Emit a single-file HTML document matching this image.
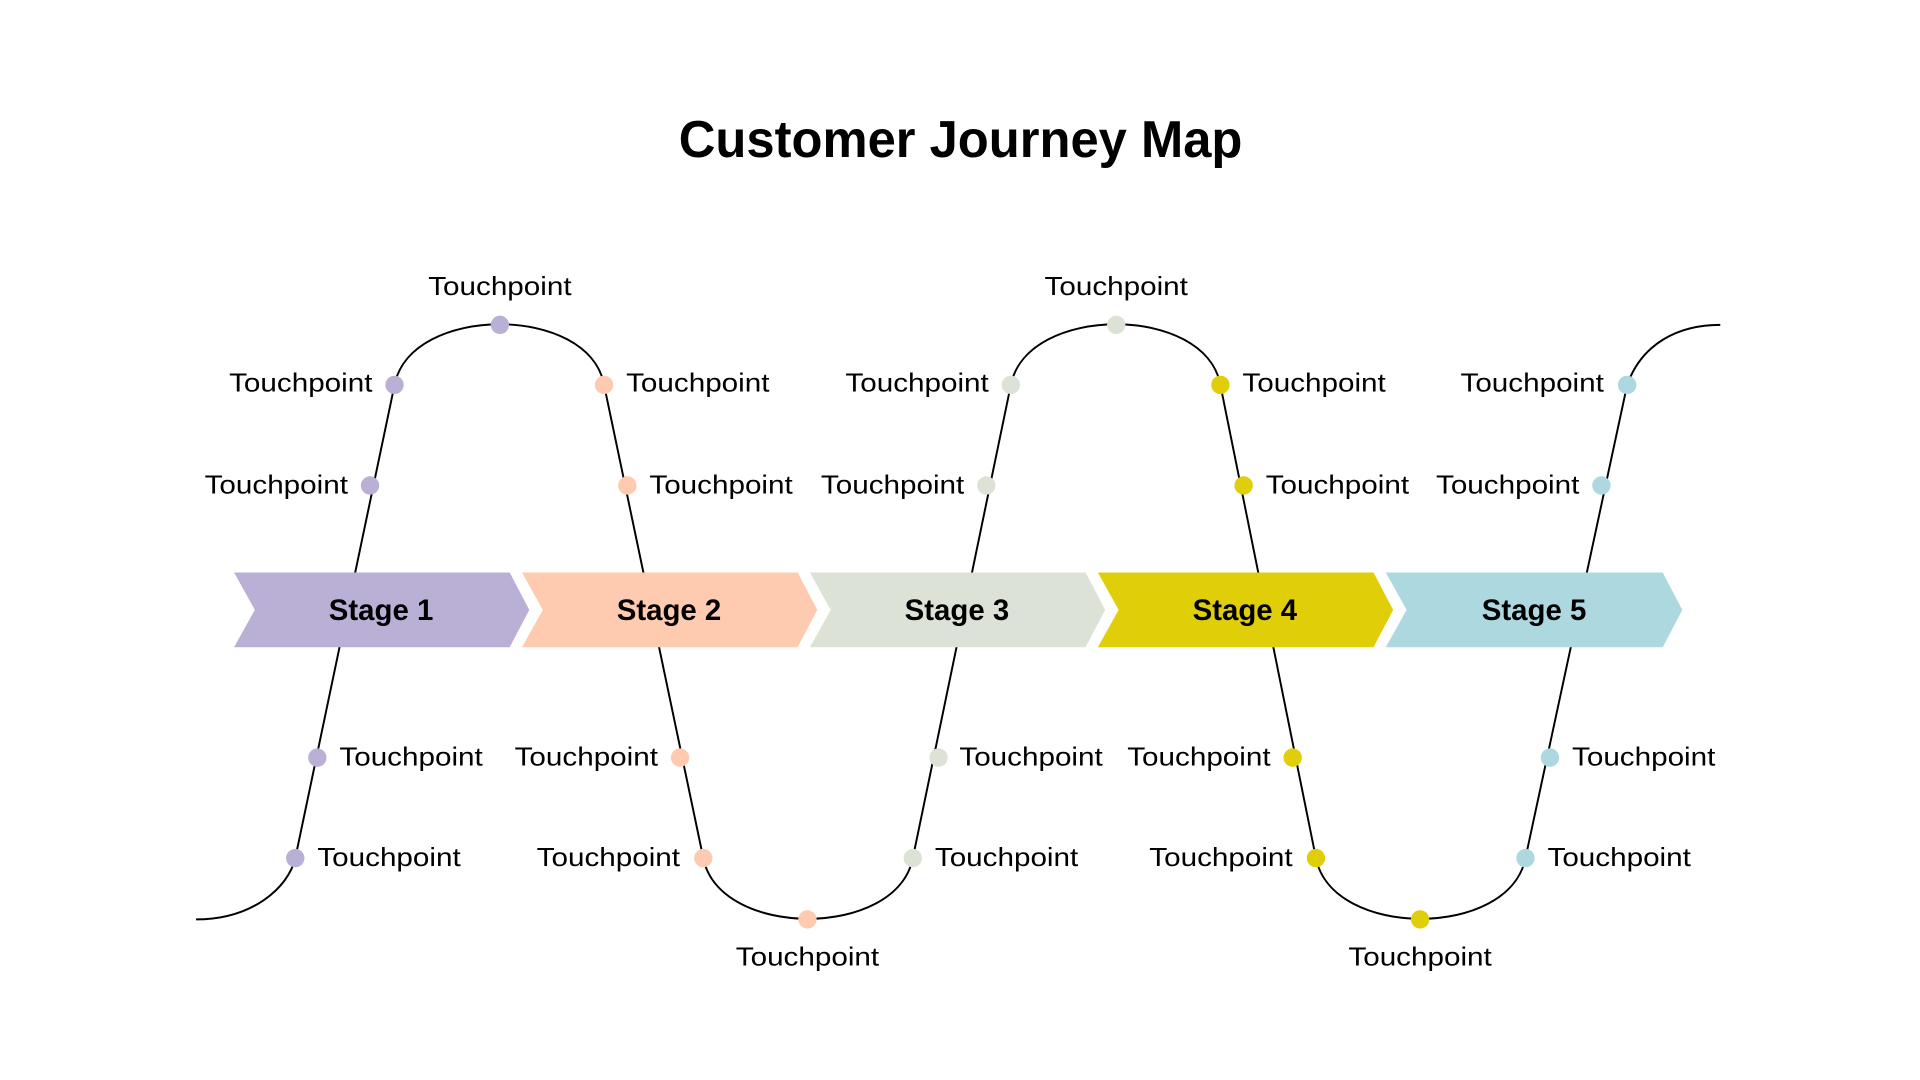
<!DOCTYPE html>
<html><head><meta charset="utf-8"><style>
html,body{margin:0;padding:0;background:#fff;width:1920px;height:1080px;overflow:hidden}
svg{display:block}
text{font-family:"Liberation Sans",sans-serif}
</style></head><body>
<svg width="1920" height="1080" viewBox="0 0 1567 881" preserveAspectRatio="none">
<text x="784" y="128" text-anchor="middle" font-size="42" font-weight="bold" textLength="460" lengthAdjust="spacingAndGlyphs">Customer Journey Map</text>
<path fill="none" stroke="#000" stroke-width="1.6" d="
M160,750 C205,750 235,725 241,700
L322,314 C335,248 481,248 493,314
L574,700 C587,766 732,766 745,700
L825,314 C838,248 984,248 996,314
L1074,700 C1087,766 1232,766 1245,700
L1328,314 C1340,280 1370,265 1404,265"/>
<g>
<polygon points="191,467 416,467 432,497.5 416,528 191,528 208,497.5" fill="#BAB0D6"/>
<polygon points="426,467 651,467 667,497.5 651,528 426,528 443,497.5" fill="#FFCBB0"/>
<polygon points="661,467 886,467 902,497.5 886,528 661,528 678,497.5" fill="#DCE2D6"/>
<polygon points="896,467 1121,467 1137,497.5 1121,528 896,528 913,497.5" fill="#DFCE08"/>
<polygon points="1131,467 1357,467 1373,497.5 1357,528 1131,528 1148,497.5" fill="#ADD8E0"/>
</g>
<g font-size="24" font-weight="bold" text-anchor="middle" dominant-baseline="central">
<text x="311" y="498">Stage 1</text>
<text x="546" y="498">Stage 2</text>
<text x="781" y="498">Stage 3</text>
<text x="1016" y="498">Stage 4</text>
<text x="1252" y="498">Stage 5</text>
</g>
<g>
<circle cx="302" cy="396" r="7.5" fill="#BAB0D6"/><circle cx="322" cy="314" r="7.5" fill="#BAB0D6"/><circle cx="408" cy="265" r="7.5" fill="#BAB0D6"/>
<circle cx="259" cy="618" r="7.5" fill="#BAB0D6"/><circle cx="241" cy="700" r="7.5" fill="#BAB0D6"/>
<circle cx="493" cy="314" r="7.5" fill="#FFCBB0"/><circle cx="512" cy="396" r="7.5" fill="#FFCBB0"/>
<circle cx="555" cy="618" r="7.5" fill="#FFCBB0"/><circle cx="574" cy="700" r="7.5" fill="#FFCBB0"/><circle cx="659" cy="750" r="7.5" fill="#FFCBB0"/>
<circle cx="805" cy="396" r="7.5" fill="#DCE2D6"/><circle cx="825" cy="314" r="7.5" fill="#DCE2D6"/><circle cx="911" cy="265" r="7.5" fill="#DCE2D6"/>
<circle cx="766" cy="618" r="7.5" fill="#DCE2D6"/><circle cx="745" cy="700" r="7.5" fill="#DCE2D6"/>
<circle cx="996" cy="314" r="7.5" fill="#DFCE08"/><circle cx="1015" cy="396" r="7.5" fill="#DFCE08"/>
<circle cx="1055" cy="618" r="7.5" fill="#DFCE08"/><circle cx="1074" cy="700" r="7.5" fill="#DFCE08"/><circle cx="1159" cy="750" r="7.5" fill="#DFCE08"/>
<circle cx="1328" cy="314" r="7.5" fill="#ADD8E0"/><circle cx="1307" cy="396" r="7.5" fill="#ADD8E0"/>
<circle cx="1265" cy="618" r="7.5" fill="#ADD8E0"/><circle cx="1245" cy="700" r="7.5" fill="#ADD8E0"/>
</g>
<g font-size="21" dominant-baseline="central">
<text x="408" y="234" text-anchor="middle" textLength="117" lengthAdjust="spacingAndGlyphs">Touchpoint</text>
<text x="911" y="234" text-anchor="middle" textLength="117" lengthAdjust="spacingAndGlyphs">Touchpoint</text>
<text x="659" y="781" text-anchor="middle" textLength="117" lengthAdjust="spacingAndGlyphs">Touchpoint</text>
<text x="1159" y="781" text-anchor="middle" textLength="117" lengthAdjust="spacingAndGlyphs">Touchpoint</text>
<text x="304" y="313" text-anchor="end" textLength="117" lengthAdjust="spacingAndGlyphs">Touchpoint</text>
<text x="284" y="396" text-anchor="end" textLength="117" lengthAdjust="spacingAndGlyphs">Touchpoint</text>
<text x="807" y="313" text-anchor="end" textLength="117" lengthAdjust="spacingAndGlyphs">Touchpoint</text>
<text x="787" y="396" text-anchor="end" textLength="117" lengthAdjust="spacingAndGlyphs">Touchpoint</text>
<text x="1309" y="313" text-anchor="end" textLength="117" lengthAdjust="spacingAndGlyphs">Touchpoint</text>
<text x="1289" y="396" text-anchor="end" textLength="117" lengthAdjust="spacingAndGlyphs">Touchpoint</text>
<text x="537" y="618" text-anchor="end" textLength="117" lengthAdjust="spacingAndGlyphs">Touchpoint</text>
<text x="555" y="700" text-anchor="end" textLength="117" lengthAdjust="spacingAndGlyphs">Touchpoint</text>
<text x="1037" y="618" text-anchor="end" textLength="117" lengthAdjust="spacingAndGlyphs">Touchpoint</text>
<text x="1055" y="700" text-anchor="end" textLength="117" lengthAdjust="spacingAndGlyphs">Touchpoint</text>
<text x="511" y="313" textLength="117" lengthAdjust="spacingAndGlyphs">Touchpoint</text>
<text x="530" y="396" textLength="117" lengthAdjust="spacingAndGlyphs">Touchpoint</text>
<text x="1014" y="313" textLength="117" lengthAdjust="spacingAndGlyphs">Touchpoint</text>
<text x="1033" y="396" textLength="117" lengthAdjust="spacingAndGlyphs">Touchpoint</text>
<text x="277" y="618" textLength="117" lengthAdjust="spacingAndGlyphs">Touchpoint</text>
<text x="259" y="700" textLength="117" lengthAdjust="spacingAndGlyphs">Touchpoint</text>
<text x="783" y="618" textLength="117" lengthAdjust="spacingAndGlyphs">Touchpoint</text>
<text x="763" y="700" textLength="117" lengthAdjust="spacingAndGlyphs">Touchpoint</text>
<text x="1283" y="618" textLength="117" lengthAdjust="spacingAndGlyphs">Touchpoint</text>
<text x="1263" y="700" textLength="117" lengthAdjust="spacingAndGlyphs">Touchpoint</text>
</g>
</svg>
</body></html>
